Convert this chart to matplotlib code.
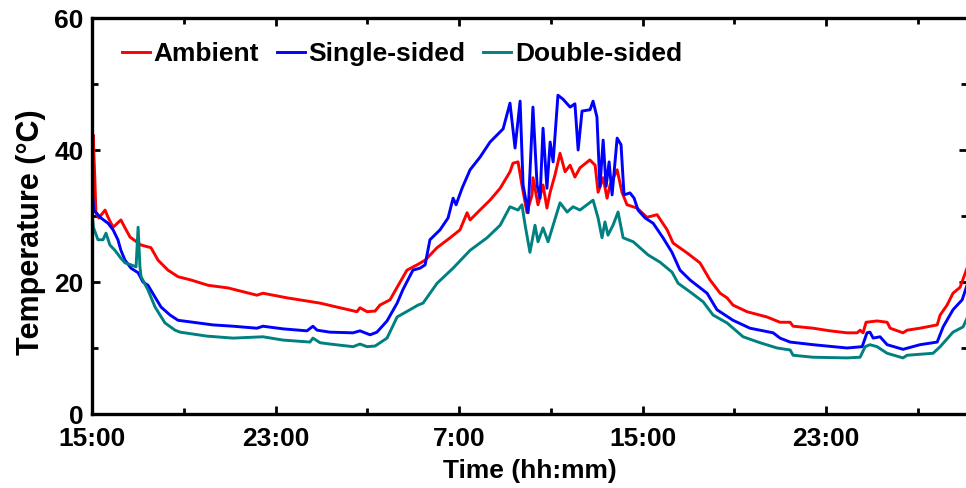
import matplotlib
matplotlib.use('Agg')
import matplotlib.pyplot as plt
from matplotlib.ticker import MultipleLocator

# hours after 15:00 of day 1, temperatures in degC
amb_t = [0, 0.05, 0.12, 0.17, 0.30, 0.57, 0.70, 0.92, 1.26, 1.44, 1.66, 2.14, 2.57, 2.88, 3.31, 3.75,
         4.32, 5.06, 5.93, 7.19, 7.45, 8.50, 9.94, 10.68, 11.55, 11.68, 11.99, 12.34, 12.55,
         12.99, 13.30, 13.73, 14.17, 14.52, 15.04, 15.61, 16.04, 16.35, 16.48, 16.91, 17.35,
         17.79, 18.22, 18.35, 18.57, 18.74, 18.96, 19.18, 19.22, 19.44, 19.66, 19.83, 19.97,
         20.18, 20.40, 20.62, 20.84, 21.05, 21.27, 21.70, 21.93, 22.06, 22.28, 22.45, 22.58,
         22.89, 23.10, 23.32, 23.76, 24.19, 24.63, 25.07, 25.33, 25.94, 26.50, 26.94, 27.38,
         27.68, 27.94, 28.55, 29.42, 29.99, 30.43, 30.56, 31.43, 32.17, 32.91, 33.35, 33.48,
         33.61, 33.74, 34.22, 34.66, 34.79, 35.35, 35.53, 36.09, 36.84, 36.97, 37.27, 37.53,
         37.84, 38.14]
amb_T = [31.0, 42.3, 36.0, 30.5, 29.7, 30.9, 29.8, 28.3, 29.4, 28.2, 26.8, 25.6, 25.2, 23.3, 21.8, 20.8,
         20.3, 19.5, 19.1, 18.0, 18.3, 17.6, 16.8, 16.2, 15.5, 16.1, 15.5, 15.6, 16.5,
         17.3, 19.2, 21.8, 22.6, 23.3, 25.2, 26.7, 27.9, 30.5, 29.4, 30.9, 32.4,
         34.2, 36.7, 38.0, 38.2, 34.7, 30.5, 33.2, 35.8, 31.7, 34.7, 31.2, 33.6,
         36.2, 39.5, 36.7, 37.7, 35.9, 37.3, 38.5, 37.7, 33.6, 35.8, 32.7, 34.7,
         37.0, 33.6, 31.7, 31.2, 29.8, 30.2, 27.9, 25.9, 24.4, 22.9, 20.3, 18.3,
         17.6, 16.5, 15.5, 14.7, 13.9, 13.9, 13.3, 13.0, 12.6, 12.3, 12.3, 12.7,
         12.3, 13.9, 14.1, 13.9, 13.0, 12.3, 12.7, 13.0, 13.5, 15.0, 16.5, 18.3,
         19.2, 22.1]

single_t = [0.03, 0.08, 0.39, 0.70, 0.92, 1.13, 1.26, 1.44, 1.70, 2.01, 2.22, 2.44, 2.75, 3.01,
            3.40, 3.75, 4.62, 5.27, 6.15, 7.19, 7.45, 8.33, 9.37, 9.63, 9.81, 10.37, 11.38,
            11.68, 12.12, 12.42, 12.86, 13.30, 13.56, 13.99, 14.30, 14.52, 14.73, 15.17,
            15.52, 15.74, 15.87, 16.13, 16.48, 16.91, 17.35, 17.92, 18.22, 18.44, 18.66,
            18.79, 19.01, 19.22, 19.40, 19.53, 19.66, 19.83, 19.97, 20.10, 20.31, 20.53,
            20.84, 21.05, 21.19, 21.36, 21.71, 21.84, 22.01, 22.14, 22.28, 22.41, 22.54,
            22.67, 22.89, 23.06, 23.19, 23.45, 23.63, 23.80, 24.11, 24.46, 24.89, 25.28,
            25.63, 26.07, 26.81, 27.24, 27.94, 28.68, 29.69, 29.99, 30.43, 31.43, 32.91,
            33.57, 33.78, 33.91, 34.05, 34.35, 34.66, 35.35, 36.09, 36.84, 37.10, 37.53,
            37.93, 38.14]
single_T = [32.9, 30.9, 29.7, 28.9, 27.9, 26.4, 24.8, 23.3, 22.1, 21.4, 20.0, 19.5, 17.7, 16.2,
            15.0, 14.2, 13.8, 13.5, 13.3, 13.0, 13.3, 12.9, 12.6, 13.3, 12.7, 12.4, 12.3,
            12.6, 12.0, 12.4, 14.1, 16.8, 18.9, 21.8, 22.1, 22.6, 26.4, 27.9,
            29.7, 32.7, 31.7, 34.2, 37.0, 38.9, 41.2, 43.2, 47.1, 40.3, 47.4,
            34.7, 30.5, 46.5, 34.7, 32.7, 43.3, 34.2, 41.2, 38.2, 48.3, 47.7,
            46.5, 47.0, 40.0, 45.9, 46.1, 47.4, 45.0, 34.4, 41.5, 34.5, 38.2,
            33.2, 41.8, 40.8, 33.2, 33.5, 32.7, 30.9, 29.7, 28.9, 26.7, 24.5,
            21.8, 20.3, 18.3, 15.8, 14.2, 13.0, 12.3, 11.5, 10.9, 10.5, 10.0,
            10.2, 12.3, 12.4, 11.5, 11.7, 10.5, 9.8, 10.5, 10.9, 13.2, 15.8,
            17.3, 19.5]

double_t = [0.02, 0.06, 0.26, 0.48, 0.61, 0.78, 1.00, 1.26, 1.44, 1.70, 1.92, 2.01, 2.09, 2.14,
            2.44, 2.75, 3.18, 3.62, 3.84, 5.01, 6.15, 7.45, 8.33, 9.50, 9.63, 9.94, 10.37,
            11.38, 11.68, 11.99, 12.34, 12.86, 13.30, 13.86, 14.21, 14.43, 15.04, 15.74,
            16.48, 17.22, 17.79, 18.22, 18.57, 18.74, 18.88, 19.09, 19.31, 19.44, 19.66,
            19.88, 20.10, 20.40, 20.71, 20.97, 21.27, 21.84, 22.06, 22.23, 22.36, 22.49,
            22.71, 22.93, 23.15, 23.59, 24.24, 24.76, 25.28, 25.55, 26.07, 26.64, 27.07,
            27.68, 28.38, 29.12, 29.86, 30.43, 30.56, 31.43, 32.91, 33.48, 33.70, 33.91,
            34.22, 34.66, 35.35, 35.53, 36.66, 36.97, 37.53, 37.97, 38.14]
double_T = [29.8, 28.3, 26.4, 26.4, 27.4, 25.6, 24.8, 23.6, 22.9, 22.6, 22.3, 28.3, 22.3, 20.8,
            18.8, 16.2, 13.8, 12.7, 12.4, 11.8, 11.5, 11.7, 11.2, 10.9, 11.5, 10.8, 10.6,
            10.2, 10.6, 10.2, 10.3, 11.5, 14.7, 15.8, 16.5, 16.8, 19.8, 22.1,
            24.8, 26.7, 28.6, 31.4, 30.9, 31.7, 28.6, 24.5, 28.6, 26.1, 28.2,
            26.1, 28.6, 32.0, 30.6, 31.4, 30.9, 32.4, 29.7, 26.7, 29.1, 27.1,
            28.6, 30.6, 26.7, 26.1, 24.1, 23.0, 21.5, 19.8, 18.5, 17.0, 15.0,
            13.8, 11.7, 10.8, 10.0, 9.7, 8.9, 8.6, 8.5, 8.6, 10.2, 10.5,
            10.2, 9.2, 8.5, 8.9, 9.2, 10.2, 12.4, 13.2, 14.5]

tick_pos = [0, 8, 16, 24, 32]
tick_labels = ['15:00', '23:00', '7:00', '15:00', '23:00']

plt.rcParams['font.family'] = ['Liberation Sans', 'DejaVu Sans']
plt.rcParams['font.weight'] = 'bold'

fig = plt.figure(figsize=(9.66, 4.88), dpi=100)
ax = fig.add_axes([92 / 966, 1 - 414 / 488, 875 / 966, 396 / 488])

ax.plot(amb_t, amb_T, color='#ff0000', lw=2.1, label='Ambient')
ax.plot(single_t, single_T, color='#0000ff', lw=2.1, label='Single-sided')
ax.plot(double_t, double_T, color='#008080', lw=2.1, label='Double-sided')

ax.set_xlim(0, 38.14)
ax.set_ylim(0, 60)
ax.set_xticks(tick_pos)
ax.set_xticklabels(tick_labels)
ax.xaxis.set_minor_locator(MultipleLocator(4))
ax.set_yticks([0, 20, 40, 60])
ax.yaxis.set_minor_locator(MultipleLocator(10))

ax.tick_params(which='both', direction='in', top=True, right=True, width=2, labelsize=19)
ax.tick_params(which='major', length=6)
ax.tick_params(axis='x', which='major', pad=9)
ax.tick_params(axis='y', which='major', pad=6)
ax.tick_params(which='minor', length=4)
for s in ax.spines.values():
    s.set_linewidth(2.4)

ax.set_xlabel('Time (hh:mm)', fontsize=19, fontweight='bold', labelpad=6)
ax.set_ylabel('Temperature (\u00b0C)', fontsize=22, fontweight='bold')
ax.yaxis.set_label_coords(-0.053, 0.46)

ax.legend(loc='upper left', ncol=3, frameon=False, fontsize=19, handlelength=1.06,
          handletextpad=0.15, columnspacing=0.66, borderaxespad=0,
          bbox_to_anchor=(0.022, 0.965))

fig.savefig('out.png', dpi=100, facecolor='white')
